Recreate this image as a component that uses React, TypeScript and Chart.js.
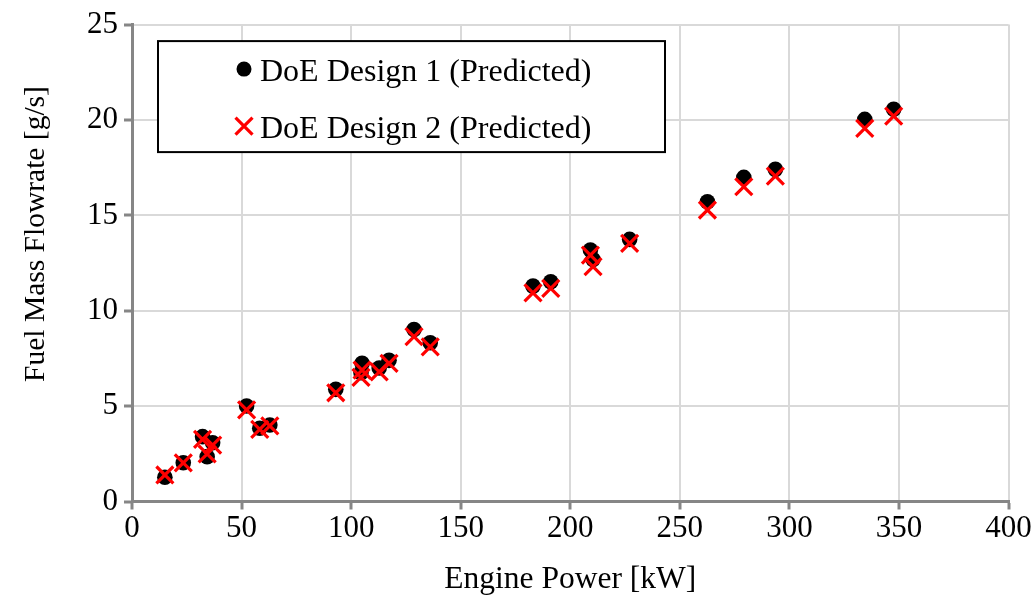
import React, { useEffect, useRef } from "react";
import { Chart, registerables } from "chart.js";

Chart.register(...registerables);

// Engine operating points [kW]
const enginePower = [
  15.0, 23.4, 32.2, 36.8, 34.3, 52.3, 58.3, 62.9, 93.0, 105.0, 104.5, 112.8, 117.3,
  128.7, 136.1, 183.0, 191.1, 209.2, 210.4, 227.1, 262.6, 279.2, 293.6, 334.4, 347.6,
];

// Predicted fuel mass flowrate [g/s] for each design
const design1Fuel = [
  1.27, 2.03, 3.4, 3.08, 2.35, 5.01, 3.84, 4.01, 5.88, 7.24, 6.75, 7.0, 7.4,
  9.02, 8.32, 11.29, 11.52, 13.18, 12.69, 13.74, 15.71, 16.99, 17.41, 20.03, 20.56,
];
const design2Fuel = [
  1.39, 2.03, 3.26, 2.96, 2.49, 4.8, 3.78, 3.96, 5.7, 6.89, 6.51, 6.8, 7.24,
  8.64, 8.11, 10.94, 11.17, 12.92, 12.31, 13.53, 15.28, 16.5, 17.06, 19.56, 20.2,
];

const seriesLabels = ["DoE Design 1 (Predicted)", "DoE Design 2 (Predicted)"];
const xTickValues = [0, 50, 100, 150, 200, 250, 300, 350, 400];
const yTickValues = [0, 5, 10, 15, 20, 25];
const xTitle = "Engine Power [kW]";
const yTitle = "Fuel Mass Flowrate [g/s]";

const FONT = "'Liberation Serif', 'Times New Roman', serif";

const toPoints = (ys: number[]) => enginePower.map((x, i) => ({ x, y: ys[i] }));

// Boxed legend drawn inside the plot area
const legendBox = {
  id: "legendBox",
  afterDraw(chart: any) {
    const { ctx, chartArea } = chart;
    const left = chartArea.left + 26;
    const top = chartArea.top + 16.5;
    const w = 507;
    const h = 111;
    ctx.save();
    ctx.fillStyle = "#ffffff";
    ctx.fillRect(left, top, w, h);
    ctx.strokeStyle = "#000000";
    ctx.lineWidth = 2;
    ctx.strokeRect(left, top, w, h);
    chart.data.datasets.forEach((ds: any, i: number) => {
      const cx = left + 86;
      const cy = top + 28 + i * 57;
      if (ds.pointStyle === "circle") {
        ctx.beginPath();
        ctx.fillStyle = ds.backgroundColor;
        ctx.arc(cx, cy, 7.5, 0, Math.PI * 2);
        ctx.fill();
      } else {
        const d = 8.5;
        ctx.beginPath();
        ctx.strokeStyle = ds.borderColor;
        ctx.lineWidth = 3.2;
        ctx.moveTo(cx - d, cy - d);
        ctx.lineTo(cx + d, cy + d);
        ctx.moveTo(cx - d, cy + d);
        ctx.lineTo(cx + d, cy - d);
        ctx.stroke();
      }
      ctx.fillStyle = "#000000";
      ctx.font = `32px ${FONT}`;
      ctx.textAlign = "left";
      ctx.textBaseline = "alphabetic";
      ctx.fillText(ds.label, left + 102, cy + 11.5);
    });
    ctx.restore();
  },
};

// Vertical axis title
const yAxisTitle = {
  id: "yAxisTitle",
  afterDraw(chart: any) {
    const { ctx } = chart;
    ctx.save();
    ctx.translate(36, 234);
    ctx.rotate(-Math.PI / 2);
    ctx.fillStyle = "#000000";
    ctx.font = `29.5px ${FONT}`;
    ctx.textAlign = "center";
    ctx.textBaseline = "middle";
    ctx.fillText(yTitle, 0, 0);
    ctx.restore();
  },
};

export default function App() {
  const canvasRef = useRef<HTMLCanvasElement | null>(null);

  useEffect(() => {
    if (!canvasRef.current) return;
    const chart = new Chart(canvasRef.current, {
      type: "scatter",
      data: {
        datasets: [
          {
            label: seriesLabels[0],
            data: toPoints(design1Fuel),
            pointStyle: "circle",
            pointRadius: 7.8,
            pointHoverRadius: 7.8,
            backgroundColor: "#000000",
            borderColor: "#000000",
            borderWidth: 0,
            order: 2,
          },
          {
            label: seriesLabels[1],
            data: toPoints(design2Fuel),
            pointStyle: "crossRot",
            pointRadius: 12,
            pointHoverRadius: 12,
            backgroundColor: "#ff0000",
            borderColor: "#ff0000",
            borderWidth: 3.2,
            order: 1,
          },
        ],
      },
      options: {
        animation: false,
        responsive: false,
        events: [],
        layout: { padding: { left: 0, right: 27.5, top: 23.5, bottom: 0 } },
        plugins: {
          legend: { display: false },
          tooltip: { enabled: false },
        },
        scales: {
          x: {
            type: "linear",
            min: xTickValues[0],
            max: xTickValues[xTickValues.length - 1],
            afterBuildTicks: (scale: any) => {
              scale.ticks = xTickValues.map((v) => ({ value: v }));
            },
            afterFit: (scale: any) => {
              scale.height = 100.5;
            },
            ticks: {
              color: "#000000",
              font: { family: FONT, size: 31 },
              padding: 1,
              maxRotation: 0,
            },
            grid: {
              color: "#d9d9d9",
              lineWidth: 2,
              drawTicks: true,
              tickLength: 8,
              tickColor: "#868686",
              tickWidth: 3,
            },
            border: { color: "#868686", width: 3 },
            title: {
              display: true,
              text: xTitle,
              color: "#000000",
              font: { family: FONT, size: 31.5 },
              padding: { top: 0, bottom: 3 },
            },
          },
          y: {
            type: "linear",
            min: yTickValues[0],
            max: yTickValues[yTickValues.length - 1],
            afterBuildTicks: (scale: any) => {
              scale.ticks = yTickValues.map((v) => ({ value: v }));
            },
            afterFit: (scale: any) => {
              scale.width = 132;
            },
            ticks: {
              color: "#000000",
              font: { family: FONT, size: 31 },
              padding: 6,
            },
            grid: {
              color: "#d9d9d9",
              lineWidth: 2,
              drawTicks: true,
              tickLength: 8,
              tickColor: "#868686",
              tickWidth: 3,
            },
            border: { color: "#868686", width: 3 },
          },
        },
      },
      plugins: [legendBox, yAxisTitle],
    } as any);
    return () => chart.destroy();
  }, []);

  return (
    <div style={{ position: "absolute", left: 0, top: 0, width: 1036, height: 602, background: "#ffffff" }}>
      <canvas ref={canvasRef} width={1036} height={602} />
    </div>
  );
}
